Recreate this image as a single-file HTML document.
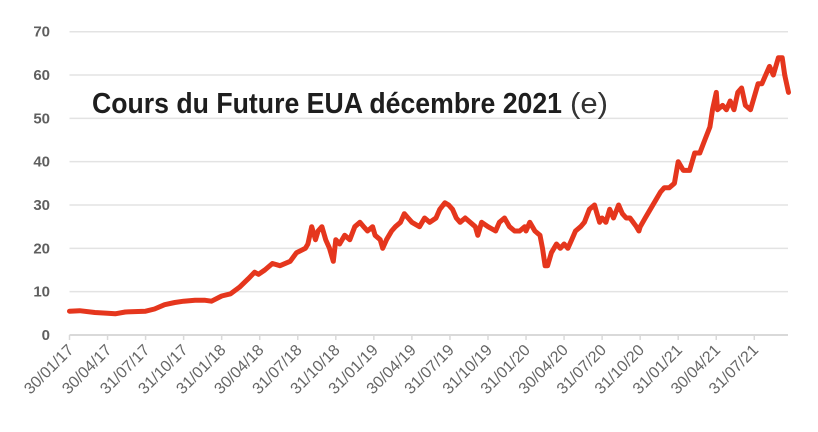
<!DOCTYPE html>
<html><head><meta charset="utf-8"><style>
html,body{margin:0;padding:0;background:#fff;}
svg{display:block;font-family:"Liberation Sans",sans-serif;}
</style></head><body>
<svg id="chart" width="818" height="432" viewBox="0 0 818 432">
<g id="grid"></g>
<g id="yaxis"></g>
<g id="xaxis"></g>
<path id="line" fill="none" stroke="#e5361d" stroke-width="5" stroke-linejoin="round" stroke-linecap="round"></path>
<text x="92" y="113" font-size="29" font-weight="bold" fill="#1e1e1e" textLength="470" lengthAdjust="spacingAndGlyphs">Cours du Future EUA décembre 2021</text>
<text x="570" y="113" font-size="29" fill="#333" textLength="38" lengthAdjust="spacingAndGlyphs">(e)</text>
</svg>
<script>
const yTicks=[0,10,20,30,40,50,60,70];
const xTickLabels=["30/01/17","30/04/17","31/07/17","31/10/17","31/01/18","30/04/18","31/07/18","31/10/18","31/01/19","30/04/19","31/07/19","31/10/19","31/01/20","30/04/20","31/07/20","31/10/20","31/01/21","30/04/21","31/07/21"];
const months=[0,0.8,2.0,3.0,3.6,4.4,6.0,6.7,7.5,8.3,9.0,9.9,10.7,11.2,12.0,12.7,13.4,14.1,14.6,14.9,15.4,16.0,16.6,17.4,17.9,18.6,18.8,19.1,19.4,19.6,19.9,20.2,20.5,20.8,21.0,21.3,21.7,22.1,22.5,22.9,23.2,23.5,23.9,24.1,24.5,24.7,25.0,25.4,25.7,26.1,26.4,26.7,27.0,27.6,28.0,28.4,28.9,29.2,29.6,29.9,30.2,30.5,30.8,31.2,31.6,32.0,32.2,32.5,33.0,33.6,33.9,34.3,34.7,35.1,35.5,35.9,36.0,36.3,36.7,37.1,37.3,37.5,37.7,38.0,38.4,38.7,39.0,39.3,39.6,39.9,40.3,40.6,41.0,41.4,41.6,41.8,42.0,42.3,42.6,42.9,43.3,43.6,43.9,44.2,44.7,44.9,45.0,45.4,45.8,46.2,46.6,46.9,47.3,47.7,48.0,48.4,48.6,48.9,49.3,49.7,50.1,50.5,50.7,51.0,51.1,51.5,51.8,52.1,52.4,52.7,53.0,53.3,53.7,54.0,54.3,54.6,54.9,55.2,55.5,55.9,56.2,56.4,56.7];
const prices=[5.5,5.6,5.2,5.0,4.9,5.3,5.5,6,7,7.5,7.8,8,8,7.8,9,9.5,11,13,14.5,14,15,16.5,16,17,19,20,21,25,22,24,25,22,20,17,22,21,23,22,25,26,25,24,25,23,22,20,22,24,25,26,28,27,26,25,27,26,27,29,30.5,30,29,27,26,27,26,25,23,26,25,24,26,27,25,24,24,25,24,26,24,23,20,16,16,19,21,20,21,20,22,24,25,26,29,30,28,26,27,26,29,27,30,28,27,27,25,24,25,27,29,31,33,34,34,35,40,38,38,38,42,42,45,48,52,56,52,53,52,54,52,56,57,53,52,55,58,58,60,62,60,64,64,60,56];
const SVGNS="http://www.w3.org/2000/svg";
const x0=69.5,x1=788,y0=335,pxPerUnit=(335-31.7)/70,pxPerMonth=(754.3-69.5)/54;
function xs(m){return x0+m*pxPerMonth;}
function ys(v){return y0-v*pxPerUnit;}
const grid=document.getElementById('grid'),ya=document.getElementById('yaxis'),xa=document.getElementById('xaxis');
yTicks.forEach(t=>{
  const l=document.createElementNS(SVGNS,'line');
  
  
  l.setAttribute('x1',x0);l.setAttribute('x2',x1);l.setAttribute('y1',ys(t));l.setAttribute('y2',ys(t));
  l.setAttribute('stroke',t===0?'#d9d9d9':'#e3e3e3');l.setAttribute('stroke-width',t===0?2:1.5);
  grid.appendChild(l);
  const tx=document.createElementNS(SVGNS,'text');
  
  
  tx.setAttribute('x',50);tx.setAttribute('y',ys(t)+5);tx.setAttribute('text-anchor','end');
  tx.setAttribute('font-size','15');tx.setAttribute('font-weight','bold');tx.setAttribute('fill','#5f5f5f');
  tx.textContent=t;ya.appendChild(tx);
});
xTickLabels.forEach((lab,i)=>{
  const px=xs(i*3);
  const tk=document.createElementNS(SVGNS,'line');
  
  
  tk.setAttribute('x1',px);tk.setAttribute('x2',px);tk.setAttribute('y1',335);tk.setAttribute('y2',340);
  tk.setAttribute('stroke','#d9d9d9');tk.setAttribute('stroke-width',1.5);
  xa.appendChild(tk);
  const tx=document.createElementNS(SVGNS,'text');
  
  
  tx.setAttribute('text-anchor','end');tx.setAttribute('font-size','16');tx.setAttribute('fill','#666');
  tx.setAttribute('transform','translate('+(px+5)+',351) rotate(-45)');
  tx.textContent=lab;xa.appendChild(tx);
});
let d='';
months.forEach((m,i)=>{d+=(i?'L':'M')+xs(m).toFixed(1)+','+ys(prices[i]).toFixed(1);});
document.getElementById('line').setAttribute('d',d);
</script>
</body></html>
